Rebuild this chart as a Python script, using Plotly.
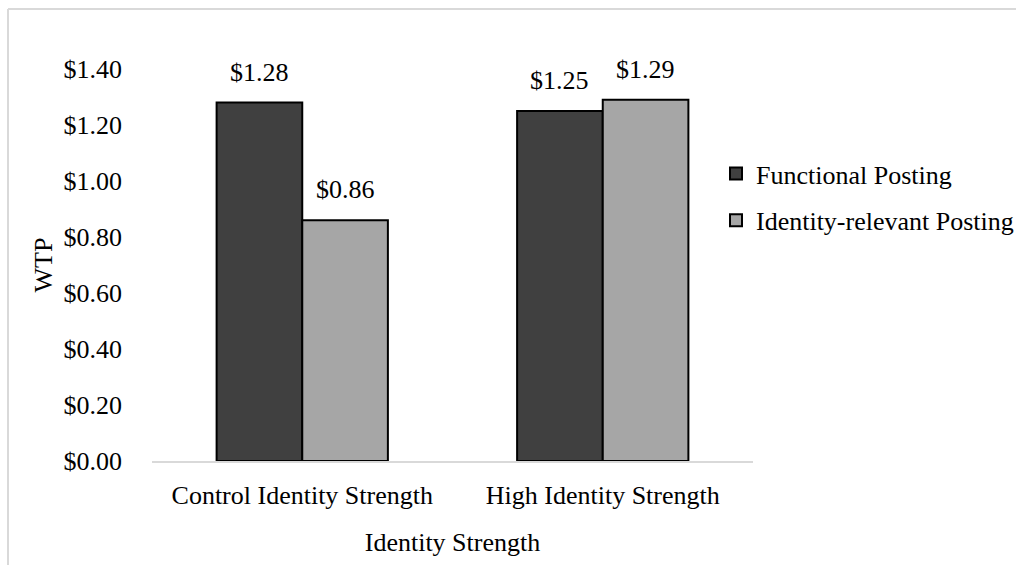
import plotly.graph_objects as go

categories = ["Control Identity Strength", "High Identity Strength"]
functional = [1.28, 1.25]
identity_relevant = [0.86, 1.29]
series_names = ["Functional Posting", "Identity-relevant Posting"]

FONT = "Liberation Serif, Times New Roman, serif"
W, H = 1016, 565
L, R, T, B = 152, 263, 69, 104
BARGAP = 0.43

fig = go.Figure()
fig.add_trace(go.Bar(
    name=series_names[0], x=categories, y=functional,
    marker=dict(color="#404040", line=dict(color="#000000", width=2)),
    legendgroup="a",
))
fig.add_trace(go.Bar(
    name=series_names[1], x=categories, y=identity_relevant,
    marker=dict(color="#A6A6A6", line=dict(color="#000000", width=2)),
    legendgroup="b",
))

# value labels above each bar, placed at the bar centres of the group
half = (1 - BARGAP) / 4
for i, (f, r) in enumerate(zip(functional, identity_relevant)):
    for off, v in ((-half, f), (half, r)):
        fig.add_annotation(
            x=i + off, y=v, xref="x", yref="y",
            text=f"${v:.2f}", showarrow=False,
            yanchor="bottom", yshift=14,
            font=dict(family=FONT, size=26, color="#000000"),
        )

pw = W - L - R
ph = H - T - B

def px_x(x):
    return (x - L) / pw

def px_y(y):
    return (H - B - y) / ph

# light frame around the chart area (top and left edges)
frame = dict(color="#D9D9D9", width=2)
fig.add_shape(type="line", xref="paper", yref="paper",
              x0=px_x(8), x1=px_x(1030), y0=px_y(9), y1=px_y(9), line=frame)
fig.add_shape(type="line", xref="paper", yref="paper",
              x0=px_x(8), x1=px_x(8), y0=px_y(9), y1=px_y(580), line=frame)

fig.update_layout(
    width=W, height=H,
    margin=dict(l=L, r=R, t=T, b=B, autoexpand=False),
    paper_bgcolor="white", plot_bgcolor="white",
    barmode="group", bargap=BARGAP, bargroupgap=0,
    font=dict(family=FONT, size=26, color="#000000"),
    showlegend=True,
    legend=dict(x=px_x(716), y=px_y(150), xanchor="left", yanchor="top",
                font=dict(family=FONT, size=26, color="#000000"),
                tracegroupgap=10, bgcolor="rgba(0,0,0,0)"),
)
fig.update_xaxes(
    showline=True, linecolor="#D9D9D9", linewidth=2,
    showgrid=False, ticks="", ticklabelstandoff=10,
    tickfont=dict(family=FONT, size=26, color="#000000"),
    title=dict(text="Identity Strength", standoff=24,
               font=dict(family=FONT, size=26, color="#000000")),
)
fig.update_yaxes(
    range=[0, 1.4], dtick=0.2, tickprefix="$", tickformat=".2f",
    showgrid=False, showline=False, zeroline=False, ticks="",
    ticklabelstandoff=29,
    tickfont=dict(family=FONT, size=26, color="#000000"),
    title=dict(text="WTP", standoff=3,
               font=dict(family=FONT, size=26, color="#000000")),
)

fig.write_html("out.html")
